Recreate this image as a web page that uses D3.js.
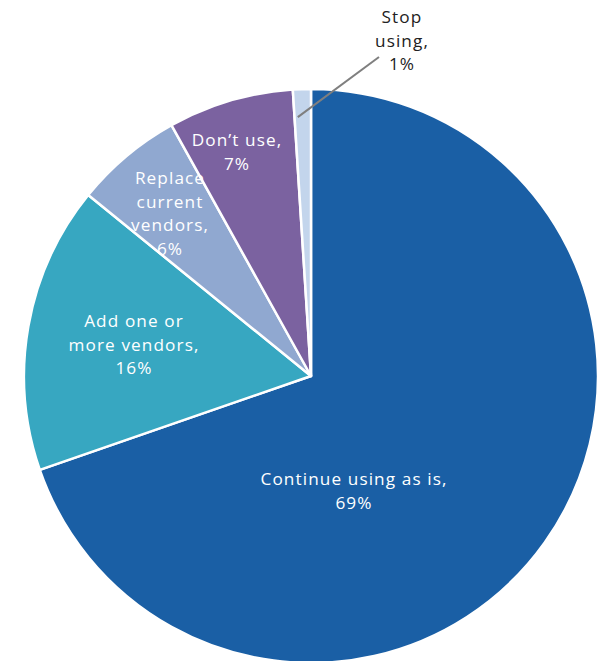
<!DOCTYPE html>
<html><head><meta charset="utf-8">
<script src="https://cdn.jsdelivr.net/npm/d3@7"></script>
<style>body{margin:0;background:#fff}svg{display:block}</style>
</head><body>
<script>
const categories = ["Continue using as is,", "Add one or more vendors,", "Replace current vendors,", "Don’t use,", "Stop using,"];
const values = [69, 16, 6, 7, 1];
const colors = ["#1a5fa5", "#37a7c1", "#90a8d0", "#7b62a0", "#c3d5ec"];
const labelLines = [
  ["Continue using as is,", "69%"],
  ["Add one or", "more vendors,", "16%"],
  ["Replace", "current", "vendors,", "6%"],
  ["Don’t use,", "7%"],
  ["Stop", "using,", "1%"]
];

const W = 602, H = 661, cx = 311, cy = 376, R = 287;
const svg = d3.select("body").append("svg").attr("width", W).attr("height", H)
  .style("font-family", "'Open Sans', Lato, sans-serif");
const g = svg.append("g").attr("transform", `translate(${cx},${cy})`);

const pie = d3.pie().sort(null).value(d => d);
const arcs = pie(values);
const arc = d3.arc().innerRadius(0).outerRadius(R);

g.selectAll("path").data(arcs).join("path")
  .attr("d", arc).attr("fill", (d, i) => colors[i])
  .attr("stroke", "#fff").attr("stroke-width", 2.5).attr("stroke-linejoin", "round");

// label placement (first-line baseline) relative to pie centre
const labelOffsets = [[43, 109], [-177, -49], [-141, -192], [-74, -230], [91, -353]];
const lh = 23.5;
labelLines.forEach((lines, i) => {
  const [ox, oy] = labelOffsets[i];
  const t = g.append("text").attr("text-anchor", "middle")
    .attr("font-size", 17.2).attr("letter-spacing", 1.1)
    .attr("fill", i === 4 ? "#222" : "#fff");
  lines.forEach((s, j) => {
    t.append("tspan").attr("x", ox).attr("y", oy + j * lh).text(s);
  });
});

// leader line for small slice
const a4 = arcs[4];
const mid = (a4.startAngle + a4.endAngle) / 2;
const p0 = [Math.sin(mid) * (R - 28), -Math.cos(mid) * (R - 28)];
g.append("line").attr("x1", p0[0] - 5).attr("y1", p0[1]).attr("x2", 68).attr("y2", -319)
  .attr("stroke", "#7f7f7f").attr("stroke-width", 2);
</script>
</body></html>
